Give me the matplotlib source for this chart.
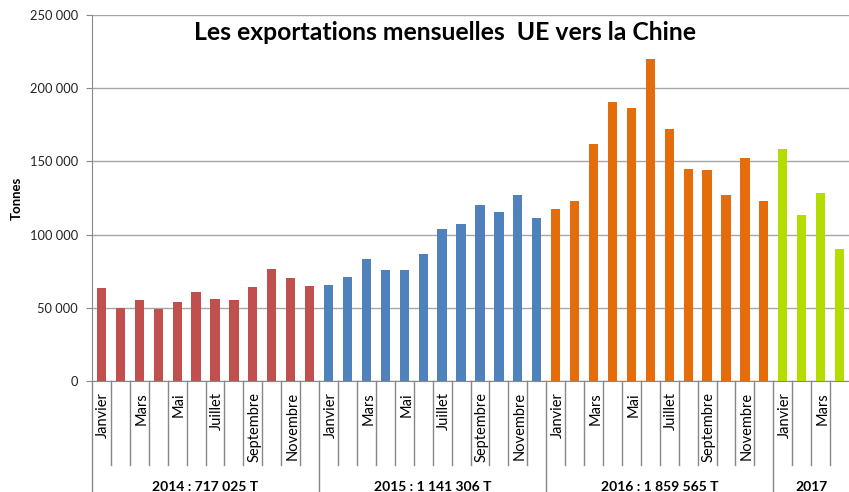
import numpy as np
import matplotlib
matplotlib.use('Agg')
import matplotlib.pyplot as plt
import matplotlib.transforms as mtransforms

# monthly exports (tonnes)
months = ['Janvier', 'Février', 'Mars', 'Avril', 'Mai', 'Juin',
          'Juillet', 'Août', 'Septembre', 'Octobre', 'Novembre', 'Décembre']
v2014 = [63300, 50200, 55000, 49500, 53700, 60500, 55700, 55000, 64000, 76300, 70200, 64700]
v2015 = [65600, 71100, 83200, 76100, 76100, 86900, 103600, 107100, 120000, 115300, 126900, 111400]
v2016 = [117300, 122800, 161600, 190600, 186500, 220100, 171900, 144500, 143800, 126900, 152000, 122800]
v2017 = [158200, 113200, 128300, 89900]
years = ['2014 : 717 025 T', '2015 : 1 141 306 T', '2016 : 1 859 565 T', '2017']
colors = ['#C0504D', '#4F81BD', '#E46C0A', '#B4DC00']
yticks = [0, 50000, 100000, 150000, 200000, 250000]
ytick_labels = ['0', '50 000', '100 000', '150 000', '200 000', '250 000']

series = [v2014, v2015, v2016, v2017]
font = 'Lato'

fig = plt.figure(figsize=(8.49, 4.92), dpi=100)
ax = fig.add_axes([92/849, 111/492, 757/849, 366/492])

pos = 0
starts = []
for vals, c in zip(series, colors):
    x = np.arange(pos, pos + len(vals))
    ax.bar(x, vals, width=0.49, color=c, zorder=3)
    starts.append(pos)
    pos += len(vals)
n = pos

ax.set_xlim(-0.5, n - 0.5)
ax.set_ylim(0, 250000)
ax.set_yticks(yticks)
ax.set_yticklabels(ytick_labels, fontsize=9.3, family=font, color='#222222')
ax.tick_params(axis='y', length=4, color='#888888', pad=6)
ax.set_xticks([])
ax.grid(axis='y', color='#A6A6A6', linewidth=1, zorder=0)
for s in ['top', 'right']:
    ax.spines[s].set_visible(False)
ax.spines['left'].set_color('#888888')
ax.spines['bottom'].set_color('#888888')

ax.set_ylabel('Tonnes', fontsize=9.5, fontweight='bold', family=font, labelpad=5)

# multi-level category axis
trans = mtransforms.blended_transform_factory(ax.transData, ax.transAxes)
lvl1 = -84/366
lvl2 = -111/366
ax.plot([-0.5, -0.5], [0, lvl2], transform=trans, clip_on=False, color='#888888', lw=1)
for i in range(1, n):
    bottom = lvl2 if i in starts else lvl1
    ax.plot([i - 0.5, i - 0.5], [0, bottom], transform=trans, clip_on=False,
            color='#888888', lw=1)

for s, vals in zip(starts, series):
    for k in range(len(vals)):
        if k % 2 == 0:
            ax.text(s + k + 0.1, -11/366, months[k], transform=trans, rotation=90,
                    ha='center', va='top', fontsize=10.5, family=font, color='#000000')

for s, vals, lab in zip(starts, series, years):
    ax.text(s + (len(vals) - 1) / 2, -106/366, lab, transform=trans, ha='center',
            va='center', fontsize=10, fontweight='bold', family=font)

fig.text(445/849, 1 - 32/492, 'Les exportations mensuelles  UE vers la Chine',
         ha='center', va='center', fontsize=17.8, fontweight='bold', family=font)

fig.savefig('out.png', dpi=100)
